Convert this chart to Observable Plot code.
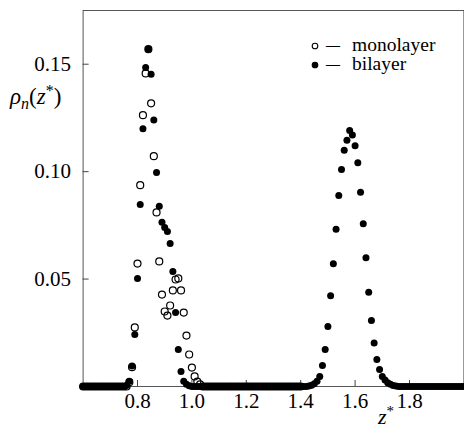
<!DOCTYPE html>
<html><head><meta charset="utf-8">
<script src="https://cdn.jsdelivr.net/npm/d3@7"></script>
<script src="https://cdn.jsdelivr.net/npm/@observablehq/plot@0.6"></script>
<style>body{margin:0;background:#fff} #chart{width:464px;height:430px}</style>
</head><body><div id="chart"></div>
<script>
// z* grid starts at 0.60, step 0.01
const zStart = 0.60, zStep = 0.01;
const seriesNames = ["monolayer", "bilayer"];
// bilayer: 0.60 .. 2.00
const bilayer = [
  // 0.60 - 0.75
  0,0,0,0,0,0,0,0,0,0,0,0,0,0,0,0,
  // 0.76 - 0.99
  0.0005,0.0025,0.0095,0.0242,0.0503,0.0847,0.120,0.1485,0.157,0.1453,0.124,0.0996,
  0.0839,0.0765,0.074,0.0721,0.0666,0.0535,0.0344,0.0172,0.007,0.0025,0.001,0.0003,
  // 1.00 - 1.42
  0,0,0,0,0,0,0,0,0,0,0,0,0,0,0,0,0,0,0,0,0,0,0,0,0,0,0,0,0,0,0,0,0,0,0,0,0,0,0,0,0,0,0,
  // 1.43 - 1.75
  0.0002,0.0006,0.0013,0.0025,0.0047,0.0098,0.0172,0.0279,0.0422,0.0571,0.0732,0.0889,
  0.101,0.110,0.1146,0.1191,0.117,0.112,0.1041,0.0904,0.0757,0.0599,0.0439,0.0307,
  0.0202,0.0126,0.0079,0.0047,0.003,0.0018,0.001,0.0005,0.0002,
  // 1.76 - 2.00
  0,0,0,0,0,0,0,0,0,0,0,0,0,0,0,0,0,0,0,0,0,0,0,0,0
];
// monolayer: 0.60 .. 1.40
const monolayer = [
  // 0.60 - 0.76
  0,0,0,0,0,0,0,0,0,0,0,0,0,0,0,0,0,
  // 0.77 - 1.03
  0.002,0.009,0.0275,0.0572,0.0937,0.1263,0.1457,0.157,0.1318,0.1072,0.081,0.0582,
  0.0428,0.0349,0.033,0.0377,0.0447,0.0498,0.0503,0.0447,0.0344,0.0237,0.0149,0.0088,
  0.0047,0.0023,0.001,
  // 1.04 - 1.40
  0,0,0,0,0,0,0,0,0,0,0,0,0,0,0,0,0,0,0,0,0,0,0,0,0,0,0,0,0,0,0,0,0,0,0,0,0
];
const xTicks = [0.8, 1.0, 1.2, 1.4, 1.6, 1.8];
const xTickLabels = ["0.8", "1.0", "1.2", "1.4", "1.6", "1.8"];
const yTicks = [0.05, 0.10, 0.15];
const yTickLabels = ["0.05", "0.10", "0.15"];

const toRows = (vals, name) => vals.map((v, i) => ({z: +(zStart + i * zStep).toFixed(2), rho: v, series: name}));
const mono = toRows(monolayer, seriesNames[0]);
const bi = toRows(bilayer, seriesNames[1]);

const W = 464, H = 430, mL = 82.6, mR = 0.6, mT = 10, mB = 44;
const xDom = [0.6, 2.0], yDom = [0, 0.175];
const TICK = 6; // inward tick length in px
const tickDY = TICK * (yDom[1] - yDom[0]) / (H - mT - mB);
const tickDX = TICK * (xDom[1] - xDom[0]) / (W - mL - mR);

const FONT = "'Liberation Serif', 'DejaVu Serif', serif";
const plot = Plot.plot({
  width: W, height: H,
  marginLeft: mL, marginRight: mR, marginTop: mT, marginBottom: mB,
  x: {domain: xDom},
  y: {domain: yDom},
  style: {fontFamily: FONT, fontSize: "21px", color: "#000", background: "#fff", overflow: "visible"},
  marks: [
    Plot.frame({stroke: "#555", strokeWidth: 1}),
    Plot.axisX(xTicks, {tickSize: 0, tickPadding: 7, fontSize: 21, label: null,
      tickFormat: d => xTickLabels[xTicks.indexOf(d)]}),
    Plot.ruleX(xTicks, {x: d => d, y1: yDom[0], y2: yDom[0] + tickDY, stroke: "#444"}),
    Plot.axisY(yTicks, {tickSize: 0, tickPadding: 12, fontSize: 21, label: null,
      tickFormat: d => yTickLabels[yTicks.indexOf(d)]}),
    Plot.ruleY(yTicks, {y: d => d, x1: xDom[0], x2: xDom[0] + tickDX, stroke: "#444"}),
    Plot.dot(mono, {x: "z", y: "rho", r: 3.5, stroke: "#000", strokeWidth: 1.2, fill: "none"}),
    Plot.dot(bi, {x: "z", y: "rho", r: 3.5, fill: "#000", stroke: "none"})
  ]
});
document.getElementById("chart").appendChild(plot);

const svg = d3.select(plot);
// y label rho_n(z*)
const yl = svg.append("text").attr("x", 10).attr("y", 104).attr("text-anchor", "start")
  .attr("font-family", FONT).attr("font-size", 23).attr("fill", "#000");
yl.append("tspan").attr("font-style", "italic").text("ρ");
yl.append("tspan").attr("font-style", "italic").attr("font-size", 16).attr("dy", 5).text("n");
yl.append("tspan").attr("dy", -5).text("(");
yl.append("tspan").attr("font-style", "italic").text("z");
yl.append("tspan").attr("font-size", 16).attr("dy", -8).text("*");
yl.append("tspan").attr("dy", 8).text(")");

// x label z*
const xl = svg.append("text").attr("x", 378).attr("y", 424).attr("text-anchor", "start")
  .attr("font-family", FONT).attr("font-size", 22).attr("fill", "#000");
xl.append("tspan").attr("font-style", "italic").text("z");
xl.append("tspan").attr("font-size", 15).attr("dy", -8).text("*");

// legend
const legend = [
  {name: seriesNames[0], cy: 46, open: true},
  {name: seriesNames[1], cy: 65, open: false}
];
legend.forEach(l => {
  svg.append("circle").attr("cx", 315).attr("cy", l.cy).attr("r", 2.8)
    .attr("fill", l.open ? "none" : "#000").attr("stroke", "#000").attr("stroke-width", 1.1);
  svg.append("text").attr("x", 326).attr("y", l.cy + 5).attr("text-anchor", "start").attr("font-family", FONT)
    .attr("font-size", 18).attr("textLength", 14).attr("lengthAdjust", "spacingAndGlyphs")
    .attr("fill", "#000").text("—");
  svg.append("text").attr("x", 352).attr("y", l.cy + 5).attr("text-anchor", "start").attr("font-family", FONT)
    .attr("font-size", 19.5).attr("fill", "#000").text(l.name);
});
</script>
</body></html>
